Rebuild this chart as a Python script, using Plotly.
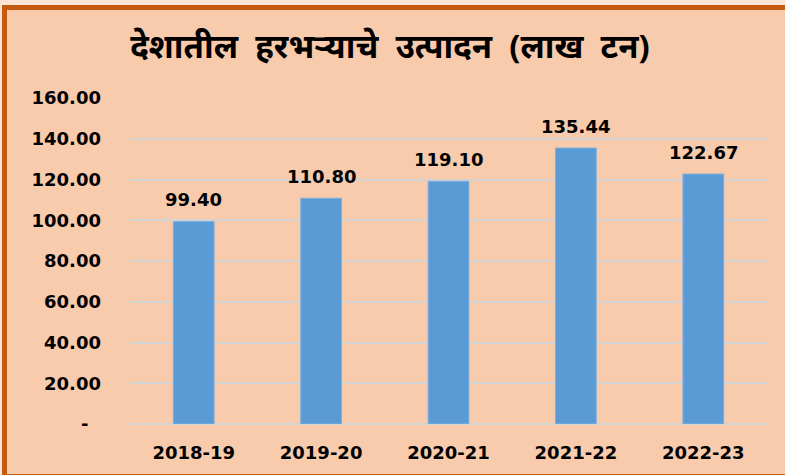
import plotly.graph_objects as go

categories = ["2018-19", "2019-20", "2020-21", "2021-22", "2022-23"]
production = [99.40, 110.80, 119.10, 135.44, 122.67]
label_text = ["99.40", "110.80", "119.10", "135.44", "122.67"]
y_tickvals = [0, 20, 40, 60, 80, 100, 120, 140, 160]
y_ticktext = ["-\u00a0\u00a0", "20.00", "40.00", "60.00", "80.00", "100.00", "120.00", "140.00", "160.00"]
title_text = "देशातील  हरभऱ्याचे  उत्पादन  (लाख  टन)"

W, H = 785, 475
ML, MR, MT, MB = 130, 18, 98, 51
PW, PH = W - ML - MR, H - MT - MB

def px(x):
    return (x - ML) / PW

def py(y):
    return (H - MB - y) / PH

FONT = "DejaVu Sans, Verdana, sans-serif"

fig = go.Figure()
fig.add_trace(go.Bar(
    x=categories, y=production,
    marker=dict(color="#5B9BD5", line=dict(color="#7FB0DE", width=1)),
    hoverinfo="x+y",
))

for c, v, t in zip(categories, production, label_text):
    fig.add_annotation(x=c, y=v, text="<b>" + t + "</b>", showarrow=False, yanchor="bottom",
                       yshift=9, font=dict(family=FONT, size=18, color="#000000"))

shapes = [
    dict(type="rect", xref="paper", yref="paper", x0=px(-5), x1=px(W + 5), y0=py(5), y1=py(-5),
         fillcolor="#FCE4D6", line=dict(width=0), layer="below"),
    dict(type="rect", xref="paper", yref="paper", x0=px(-5), x1=px(2), y0=py(H + 5), y1=py(-5),
         fillcolor="#FCE4D6", line=dict(width=0), layer="below"),
    dict(type="rect", xref="paper", yref="paper", x0=px(4.5), x1=px(W + 20), y0=py(476.5), y1=py(7.5),
         fillcolor="rgba(0,0,0,0)", line=dict(color="#C55A11", width=5), layer="above"),
]

fig.update_layout(
    width=W, height=H,
    margin=dict(l=ML, r=MR, t=MT, b=MB, pad=0),
    paper_bgcolor="#F8CBAD", plot_bgcolor="#F8CBAD",
    bargap=0.68,
    showlegend=False,
    shapes=shapes,
    title=dict(text="<b>" + title_text + "</b>", x=390 / W, xanchor="center",
               y=1 - 46 / H, yanchor="middle",
               font=dict(family="Noto Sans, Noto Sans Devanagari, sans-serif", size=33, color="#000000")),
    font=dict(family=FONT, color="#000000"),
)

fig.update_yaxes(
    range=[0, 160], tickvals=y_tickvals, ticktext=y_ticktext,
    showgrid=True, gridcolor="#D3D3D3", gridwidth=2,
    zeroline=True, zerolinecolor="#D3D3D3", zerolinewidth=2,
    showline=False, ticks="", ticklabelstandoff=28,
    tickfont=dict(family=FONT, size=18, color="#000000", weight="bold"),
    fixedrange=True,
)
fig.update_xaxes(
    showgrid=False, showline=False, ticks="", ticklabelstandoff=16,
    tickfont=dict(family=FONT, size=18, color="#000000", weight="bold"),
    fixedrange=True,
)

fig.write_html("out.html", config={"displayModeBar": False},
               post_script="document.body.style.margin='0';document.body.style.overflow='hidden';")
